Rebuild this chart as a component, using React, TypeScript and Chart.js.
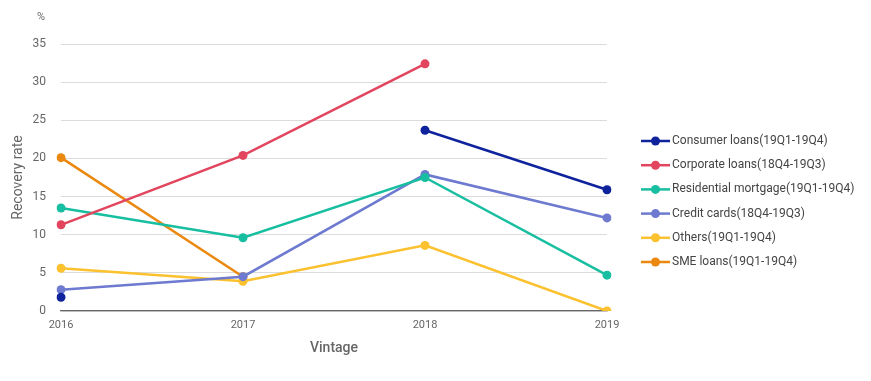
import React, { useEffect, useRef } from "react";
import { Chart, registerables } from "chart.js";

Chart.register(...registerables);

const categories = ["2016", "2017", "2018", "2019"];
const seriesNames = [
  "Consumer loans(19Q1-19Q4)",
  "Corporate loans(18Q4-19Q3)",
  "Residential mortgage(19Q1-19Q4)",
  "Credit cards(18Q4-19Q3)",
  "Others(19Q1-19Q4)",
  "SME loans(19Q1-19Q4)",
];
const consumerLoans = [1.8, null, 23.7, 15.9];
const corporateLoans = [11.3, 20.4, 32.4, null];
const residentialMortgage = [13.5, 9.6, 17.5, 4.7];
const creditCards = [2.8, 4.5, 17.9, 12.2];
const others = [5.6, 3.9, 8.6, 0];
const smeLoans = [20.1, 4.5, null, null];
const colors = ["#0f239c", "#e2465e", "#17bea0", "#6d7ad0", "#fbc12e", "#ea880f"];
const yTicks = [0, 5, 10, 15, 20, 25, 30, 35];

export default function App() {
  const ref = useRef<HTMLCanvasElement>(null);
  useEffect(() => {
    document.body.style.margin = "0";
    const values = [consumerLoans, corporateLoans, residentialMortgage, creditCards, others, smeLoans];
    const font = "Roboto";
    const extrasPlugin = {
      id: "extras",
      afterDraw(chart: any) {
        const ys = chart.scales.y;
        const ctx = chart.ctx;
        ctx.save();
        ctx.fillStyle = "#666";
        ctx.font = `11px ${font}`;
        ctx.textAlign = "center";
        ctx.textBaseline = "middle";
        ctx.fillText("%", ys.right - 20, 17);
        // legend
        const lx = chart.chartArea.right + 34;
        const spacing = 24.2;
        const cy0 = chart.chartArea.bottom - 170;
        ctx.font = `12px ${font}`;
        ctx.textAlign = "left";
        chart.data.datasets.forEach((ds: any, i: number) => {
          const cy = cy0 + i * spacing;
          ctx.strokeStyle = ds.borderColor;
          ctx.lineWidth = 2.5;
          ctx.beginPath();
          ctx.moveTo(lx, cy);
          ctx.lineTo(lx + 29, cy);
          ctx.stroke();
          ctx.fillStyle = ds.borderColor;
          ctx.beginPath();
          ctx.arc(lx + 14.5, cy, 4.5, 0, Math.PI * 2);
          ctx.fill();
          ctx.fillStyle = "#444";
          ctx.fillText(ds.label, lx + 31, cy);
        });
        ctx.restore();
      },
    };
    const chart = new Chart(ref.current!, {
      type: "line",
      data: {
        labels: categories,
        datasets: values.map((v, i) => ({
          label: seriesNames[i],
          data: v,
          borderColor: colors[i],
          backgroundColor: colors[i],
          pointBackgroundColor: colors[i],
          pointBorderColor: colors[i],
          borderWidth: 2.5,
          pointRadius: 4.5,
          pointBorderWidth: 0,
          spanGaps: false,
          tension: 0,
        })),
      },
      options: {
        animation: false,
        responsive: false,
        maintainAspectRatio: false,
        layout: { padding: { top: 44, right: 264, bottom: 20, left: 8 } },
        plugins: {
          tooltip: { enabled: false },
          legend: { display: false },
        },
        scales: {
          x: {
            type: "category",
            offset: false,
            grid: { display: false, drawTicks: false },
            border: { display: true, color: "#666", width: 1.2 },
            ticks: { font: { family: font, size: 11 }, color: "#666", padding: 8, maxRotation: 0 },
            title: { display: true, text: "Vintage", font: { family: font, size: 14, weight: "500" }, color: "#666", padding: { top: 0, bottom: 4 } },
          },
          y: {
            min: 0,
            max: 35,
            afterBuildTicks(scale: any) {
              scale.ticks = yTicks.map((v) => ({ value: v }));
            },
            afterFit(scale: any) {
              scale.width = 53;
            },
            grid: { color: "#dcdcdc", drawTicks: false, lineWidth: 1 },
            border: { display: false },
            ticks: { font: { family: font, size: 12 }, color: "#666", padding: 15 },
            title: { display: true, text: "Recovery rate", font: { family: font, size: 14, weight: "normal" }, color: "#666", padding: { top: 2, bottom: 7 } },
          },
        },
      },
      plugins: [extrasPlugin],
    } as any);
    return () => chart.destroy();
  }, []);
  return <canvas ref={ref} width={871} height={381} style={{ display: "block" }} />;
}
